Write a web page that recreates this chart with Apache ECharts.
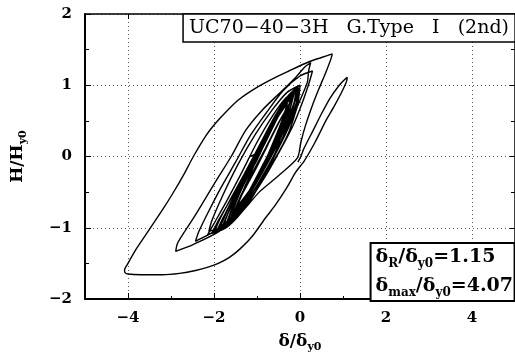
<!DOCTYPE html>
<html><head><meta charset="utf-8">
<script src="https://cdn.jsdelivr.net/npm/echarts@6/dist/echarts.min.js"></script>
<style>html,body{margin:0;padding:0;background:#fff}#c{width:515px;height:358px}</style>
</head><body><div id="c"></div>
<script>
// ---- data (x = δ/δy0, y = H/Hy0) ----
const xTicks = [-4, -2, 0, 2, 4];
const yTicks = [-2, -1, 0, 1, 2];
const thinLoop = [[-0.05,-0.08],[0.02,0.0],[0.09,0.11],[0.3,0.36],[0.5,0.6],[0.7,0.82],[0.9,0.99],[1.04,1.08],[1.1,1.11]];
const firstExcursion = [[1.08,1.05],[0.95,0.88],[0.8,0.71],[0.6,0.5],[0.35,0.2],[0.1,-0.06],[-0.1,-0.22],[-0.3,-0.43],[-0.57,-0.68],[-0.8,-0.86],[-1.11,-1.12],[-1.4,-1.3],[-1.65,-1.42],[-1.9,-1.5],[-2.12,-1.55],[-2.43,-1.6],[-2.8,-1.64],[-3.2,-1.66],[-3.7,-1.66],[-4.0,-1.65],[-4.07,-1.63]];
const outerUp = [[-4.08,-1.59],[-4.02,-1.52],[-3.8,-1.29],[-3.51,-1.03],[-3.2,-0.75],[-2.97,-0.53],[-2.7,-0.25],[-2.48,0.0],[-2.19,0.29],[-1.96,0.47],[-1.7,0.64],[-1.42,0.8],[-1.03,0.96],[-0.64,1.09],[-0.26,1.2],[0.21,1.33],[0.5,1.39],[0.75,1.44]];
const secondDown = [[0.72,1.37],[0.6,1.18],[0.44,0.95],[0.29,0.72],[0.13,0.44],[0.02,0.2],[-0.06,-0.02],[-0.5,-0.27],[-0.95,-0.5],[-1.34,-0.77],[-1.88,-1.05],[-2.5,-1.24],[-2.8,-1.31],[-2.89,-1.33]];
const secondUp = [[-2.85,-1.22],[-2.7,-1.07],[-2.43,-0.82],[-1.96,-0.35],[-1.6,0.0],[-1.26,0.37],[-0.88,0.65],[-0.49,0.88],[-0.1,1.11],[0.1,1.25],[0.25,1.32]];
const thirdDown = [[0.2,1.2],[0.17,1.04],[-0.06,0.7],[-0.26,0.34],[-0.6,-0.05],[-1.0,-0.42],[-1.5,-0.8],[-2.0,-1.05],[-2.3,-1.15],[-2.43,-1.19]];
const thirdUp = [[-2.35,-1.05],[-2.15,-0.8],[-1.85,-0.45],[-1.5,-0.08],[-1.15,0.3],[-0.8,0.6],[-0.4,0.92],[0.0,1.13],[0.29,1.2]];
const fourthDown = [[0.22,1.05],[0.05,0.75],[-0.15,0.45],[-0.45,0.1],[-0.85,-0.32],[-1.3,-0.72],[-1.8,-0.98],[-2.12,-1.05]];
const fourthUp = [[-2.05,-0.9],[-1.8,-0.55],[-1.45,-0.12],[-1.05,0.3],[-0.65,0.65],[-0.3,0.9],[0.0,1.0]];
const cycle1 = [[-0.05,0.75],[-0.27,0.4],[-0.6,0.0],[-1.0,-0.45],[-1.4,-0.8],[-1.78,-1.0],[-2.0,-1.07],[-1.88,-0.9],[-1.62,-0.6],[-1.3,-0.25],[-0.95,0.15],[-0.6,0.55],[-0.28,0.85],[-0.06,0.98]];
const cycle2 = [[-0.1,0.8],[-0.32,0.45],[-0.65,0.05],[-1.05,-0.4],[-1.45,-0.78],[-1.82,-1.0],[-2.15,-1.1],[-1.98,-0.92],[-1.7,-0.62],[-1.35,-0.22],[-1.0,0.2],[-0.66,0.55],[-0.33,0.82],[-0.02,0.95]];
const cycle9 = [[-0.02,0.9],[-0.22,0.55],[-0.52,0.1],[-0.85,-0.3],[-1.25,-0.7],[-1.67,-0.98],[-1.95,-1.06],[-1.78,-0.85],[-1.46,-0.5],[-1.15,-0.15],[-0.85,0.2],[-0.52,0.58],[-0.24,0.85],[-0.04,0.97]];
const cycle3 = [[-0.1,0.7],[-0.37,0.3],[-0.75,-0.15],[-1.15,-0.55],[-1.52,-0.85],[-1.9,-1.02],[-1.72,-0.78],[-1.4,-0.4],[-1.05,0.0],[-0.7,0.4],[-0.38,0.72],[-0.1,0.9]];
const cycle10 = [[-0.14,0.75],[-0.37,0.4],[-0.58,0.05],[-0.9,-0.3],[-1.3,-0.7],[-1.72,-1.0],[-2.05,-1.08],[-1.88,-0.88],[-1.56,-0.55],[-1.2,-0.18],[-0.9,0.12],[-0.58,0.5],[-0.28,0.8],[-0.08,0.93]];
const cycle4 = [[-0.18,0.65],[-0.46,0.25],[-0.85,-0.2],[-1.25,-0.6],[-1.62,-0.9],[-1.85,-0.98],[-1.68,-0.75],[-1.36,-0.35],[-1.0,0.05],[-0.66,0.45],[-0.33,0.78],[-0.14,0.88]];
const cycle11 = [[-0.24,0.65],[-0.46,0.3],[-0.68,0.0],[-1.0,-0.35],[-1.4,-0.72],[-1.78,-0.97],[-1.62,-0.72],[-1.3,-0.35],[-0.95,0.02],[-0.66,0.38],[-0.38,0.7],[-0.15,0.9]];
const cycle5 = [[-0.28,0.55],[-0.56,0.15],[-0.9,-0.25],[-1.3,-0.65],[-1.68,-0.92],[-1.52,-0.65],[-1.2,-0.25],[-0.86,0.15],[-0.52,0.55],[-0.24,0.82]];
const cycle12 = [[-0.28,0.6],[-0.51,0.25],[-0.75,-0.05],[-1.1,-0.42],[-1.46,-0.75],[-1.82,-1.0],[-1.66,-0.78],[-1.35,-0.42],[-1.0,-0.05],[-0.73,0.3],[-0.43,0.65],[-0.17,0.88]];
const cycle6 = [[-0.37,0.5],[-0.66,0.1],[-1.0,-0.3],[-1.36,-0.68],[-1.62,-0.88],[-1.46,-0.6],[-1.15,-0.2],[-0.8,0.2],[-0.47,0.6],[-0.19,0.85]];
const cycle13 = [[-0.33,0.55],[-0.56,0.2],[-0.8,-0.1],[-1.15,-0.48],[-1.52,-0.8],[-1.36,-0.55],[-1.05,-0.2],[-0.76,0.15],[-0.47,0.5],[-0.24,0.75]];
const cycle7 = [[-0.42,0.45],[-0.76,0.0],[-1.1,-0.4],[-1.46,-0.75],[-1.72,-0.95],[-1.56,-0.7],[-1.25,-0.3],[-0.9,0.1],[-0.57,0.5],[-0.29,0.75]];
const cycle14 = [[-0.42,0.5],[-0.6,0.2],[-0.85,-0.1],[-1.2,-0.5],[-1.56,-0.82],[-1.4,-0.58],[-1.1,-0.22],[-0.8,0.12],[-0.52,0.45],[-0.33,0.65]];
const cycle8 = [[-0.52,0.35],[-0.8,-0.05],[-1.15,-0.45],[-1.46,-0.7],[-1.3,-0.45],[-1.05,-0.1],[-0.76,0.3],[-0.52,0.55],[-0.72,0.3],[-0.92,0.08],[-1.15,0.0]];
const titleText = 'UC70\u221240\u22123H   G.Type   I   (2nd)';
const deltaR = '1.15';
const deltaMax = '4.07';

const path = [].concat(thinLoop, firstExcursion, outerUp, secondDown, secondUp, thirdDown, thirdUp,
  fourthDown, fourthUp, cycle1, cycle2, cycle9, cycle3, cycle10, cycle4, cycle11, cycle5, cycle12,
  cycle6, cycle13, cycle7, cycle14, cycle8);

const SERIF = '"DejaVu Serif", "Liberation Serif", serif';
const minus = v => String(v).replace('-', '\u2212');
const grid = { left: 85, right: 0, top: 14, bottom: 57 };
const axisLineStyle = { onZero: false, lineStyle: { color: '#000', width: 2 } };
const split = { show: true, lineStyle: { color: '#555', width: 1, type: [1, 3] } };

const chart = echarts.init(document.getElementById('c'), null, { renderer: 'canvas' });
chart.setOption({
  animation: false,
  backgroundColor: '#fff',
  grid: grid,
  title: [
    { text: titleText, right: 0, top: 14, padding: [4, 6, 4, 6],
      borderColor: '#000', borderWidth: 1.5, backgroundColor: '#fff',
      textStyle: { fontFamily: SERIF, fontWeight: 'normal', fontSize: 19, color: '#000', lineHeight: 20 } },
    { text: '{d|\u03b4}{s|R}{d|/\u03b4}{s|y0}{d|=' + deltaR + '}\n{d|\u03b4}{s|max}{d|/\u03b4}{s|y0}{d|=' + deltaMax + '}',
      right: 0, bottom: 57, padding: [0, 2, 0, 5],
      borderColor: '#000', borderWidth: 2, backgroundColor: '#fff',
      textStyle: { fontFamily: SERIF, fontWeight: 'bold', fontSize: 19, lineHeight: 29, color: '#000',
        rich: {
          d: { fontFamily: SERIF, fontWeight: 'bold', fontSize: 19, color: '#000', lineHeight: 29, verticalAlign: 'middle' },
          s: { fontFamily: SERIF, fontWeight: 'bold', fontSize: 12, color: '#000', lineHeight: 12, verticalAlign: 'bottom', padding: [0, 0, 2, 0] }
        } } }
  ],
  xAxis: [
    { type: 'value', min: -5, max: 5, position: 'bottom',
      name: '{a|\u03b4/\u03b4}{s|y0}', nameLocation: 'middle', nameGap: 32,
      nameTextStyle: { rich: {
        a: { fontFamily: SERIF, fontWeight: 'bold', fontSize: 17, color: '#000', lineHeight: 22, verticalAlign: 'middle' },
        s: { fontFamily: SERIF, fontWeight: 'bold', fontSize: 11, color: '#000', lineHeight: 10, verticalAlign: 'bottom' } } },
      axisLine: axisLineStyle,
      axisTick: { show: true, inside: true, length: 6, lineStyle: { color: '#000', width: 1 } },
      axisLabel: { showMinLabel: false, showMaxLabel: false, margin: 12, color: '#000', fontFamily: SERIF, fontWeight: 'bold', fontSize: 15,
        formatter: v => xTicks.indexOf(v) >= 0 ? minus(v) : '' },
      splitLine: split },
    { type: 'value', min: -5, max: 5, position: 'top',
      axisLine: { onZero: false, lineStyle: { color: '#000', width: 1.5 } },
      axisTick: { show: true, inside: true, length: 5, lineStyle: { color: '#000' } },
      axisLabel: { show: false }, splitLine: { show: false } },
    { type: 'value', min: -5, max: 5, interval: 1, position: 'bottom',
      axisLine: { show: false, onZero: false },
      axisTick: { show: true, inside: true, length: 3, lineStyle: { color: '#000' } },
      axisLabel: { show: false }, splitLine: { show: false } }
  ],
  yAxis: [
    { type: 'value', min: -2, max: 2, interval: 1, position: 'left',
      name: '{a|H/H}{s|y0}', nameLocation: 'middle', nameGap: 56, nameRotate: 90,
      nameTextStyle: { rich: {
        a: { fontFamily: SERIF, fontWeight: 'bold', fontSize: 17, color: '#000', lineHeight: 22, verticalAlign: 'middle' },
        s: { fontFamily: SERIF, fontWeight: 'bold', fontSize: 11, color: '#000', lineHeight: 10, verticalAlign: 'bottom' } } },
      axisLine: axisLineStyle,
      axisTick: { show: true, inside: true, length: 6, lineStyle: { color: '#000', width: 1 } },
      minorTick: { show: true, splitNumber: 2, length: 4, lineStyle: { color: '#000', width: 1 } },
      axisLabel: { margin: 13, color: '#000', fontFamily: SERIF, fontWeight: 'bold', fontSize: 15,
        formatter: v => yTicks.indexOf(v) >= 0 ? minus(v) : '' },
      splitLine: split },
    { type: 'value', min: -2, max: 2, interval: 1, position: 'right',
      axisLine: { onZero: false, lineStyle: { color: '#000', width: 1.5 } },
      axisTick: { show: true, inside: true, length: 5, lineStyle: { color: '#000' } },
      minorTick: { show: true, splitNumber: 2, length: 4, lineStyle: { color: '#000' } },
      axisLabel: { show: false }, splitLine: { show: false } }
  ],
  series: [{
    type: 'line', xAxisIndex: 0, yAxisIndex: 0, data: path,
    showSymbol: false, symbol: 'none', smooth: 0.25,
    lineStyle: { color: '#000', width: 1.4 }, z: 3
  }]
});
</script></body></html>
